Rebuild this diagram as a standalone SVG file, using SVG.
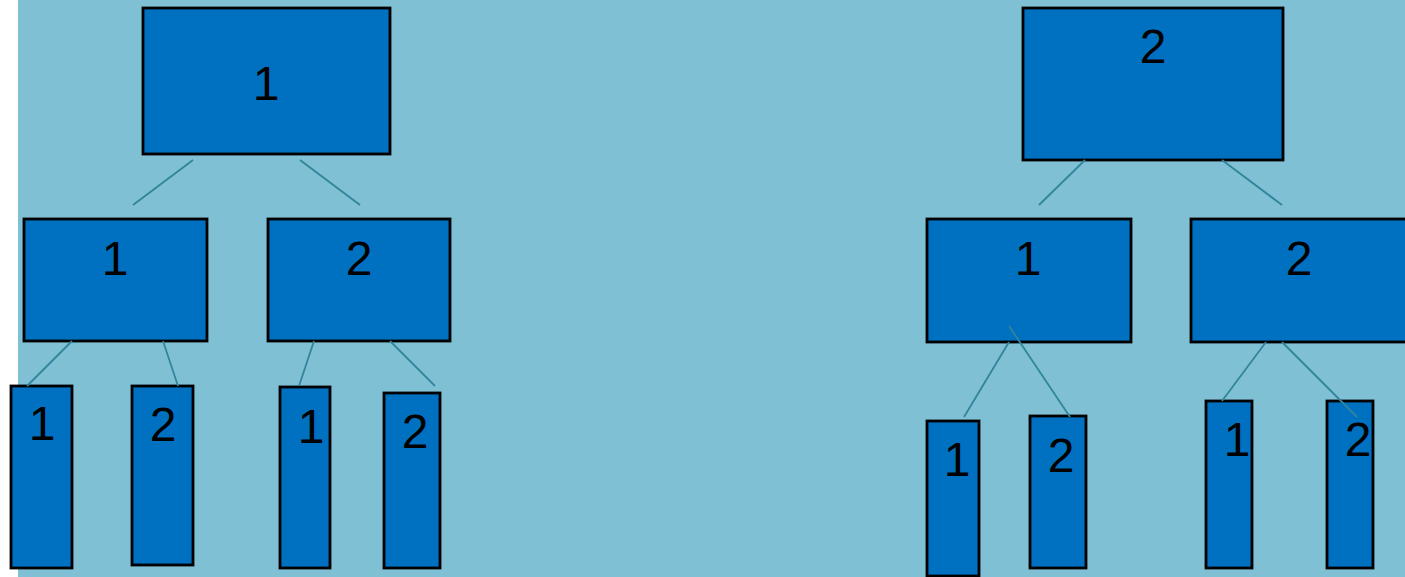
<svg xmlns="http://www.w3.org/2000/svg" width="1405" height="577" viewBox="0 0 1405 577">
<style>
.n{fill:#0070C0;stroke:#000;stroke-width:2.8}
.t{font-family:"Liberation Sans",Arial,sans-serif;font-size:48px;fill:#000;text-anchor:middle}
.c{stroke:#31859C;stroke-width:1.8;fill:none}
</style>
<rect x="0" y="0" width="1405" height="577" fill="#fff"/>
<rect x="18" y="0" width="1387" height="577" fill="#7FC0D4"/>
<g id="L-root"><rect class="n" x="143" y="8" width="247" height="146"/><text class="t" x="266" y="100">1</text></g>
<g id="L-1"><rect class="n" x="24" y="219" width="183" height="122"/><text class="t" x="115" y="275">1</text></g>
<g id="L-2"><rect class="n" x="268" y="219" width="182" height="122"/><text class="t" x="359" y="275">2</text></g>
<g id="L-1-1"><rect class="n" x="11" y="386" width="61" height="182"/><text class="t" x="42" y="440">1</text></g>
<g id="L-1-2"><rect class="n" x="132" y="386" width="61" height="179"/><text class="t" x="163" y="441">2</text></g>
<g id="L-2-1"><rect class="n" x="280" y="387" width="50" height="181"/><text class="t" x="311" y="443">1</text></g>
<g id="L-2-2"><rect class="n" x="384" y="393" width="56" height="175"/><text class="t" x="415" y="448">2</text></g>
<g id="R-root"><rect class="n" x="1023" y="8" width="260" height="152"/><text class="t" x="1153" y="63">2</text></g>
<g id="R-1"><rect class="n" x="927" y="219" width="204" height="123"/><text class="t" x="1028" y="275">1</text></g>
<g id="R-2"><rect class="n" x="1191" y="219" width="220" height="123"/><text class="t" x="1299" y="275">2</text></g>
<g id="R-1-1"><rect class="n" x="927" y="421" width="52" height="155"/><text class="t" x="957" y="476">1</text></g>
<g id="R-1-2"><rect class="n" x="1030" y="416" width="56" height="152"/><text class="t" x="1061" y="472">2</text></g>
<g id="R-2-1"><rect class="n" x="1206" y="401" width="46" height="167"/><text class="t" x="1237" y="456">1</text></g>
<g id="R-2-2"><rect class="n" x="1327" y="401" width="46" height="167"/><text class="t" x="1358" y="456">2</text></g>
<g id="connectors">
<line class="c" x1="193" y1="160" x2="133" y2="205"/>
<line class="c" x1="300" y1="160" x2="360" y2="205"/>
<line class="c" x1="72" y1="341" x2="27" y2="386"/>
<line class="c" x1="163" y1="341" x2="178" y2="386"/>
<line class="c" x1="314" y1="341" x2="299" y2="386"/>
<line class="c" x1="390" y1="341" x2="435" y2="386"/>
<line class="c" x1="1085" y1="160" x2="1039" y2="205"/>
<line class="c" x1="1222" y1="160" x2="1282" y2="205"/>
<line class="c" x1="1009" y1="342" x2="964" y2="417"/>
<line class="c" x1="1009" y1="326" x2="1070" y2="417"/>
<line class="c" x1="1266" y1="342" x2="1222" y2="401"/>
<line class="c" x1="1282" y1="342" x2="1357" y2="417"/>
</g>
</svg>
